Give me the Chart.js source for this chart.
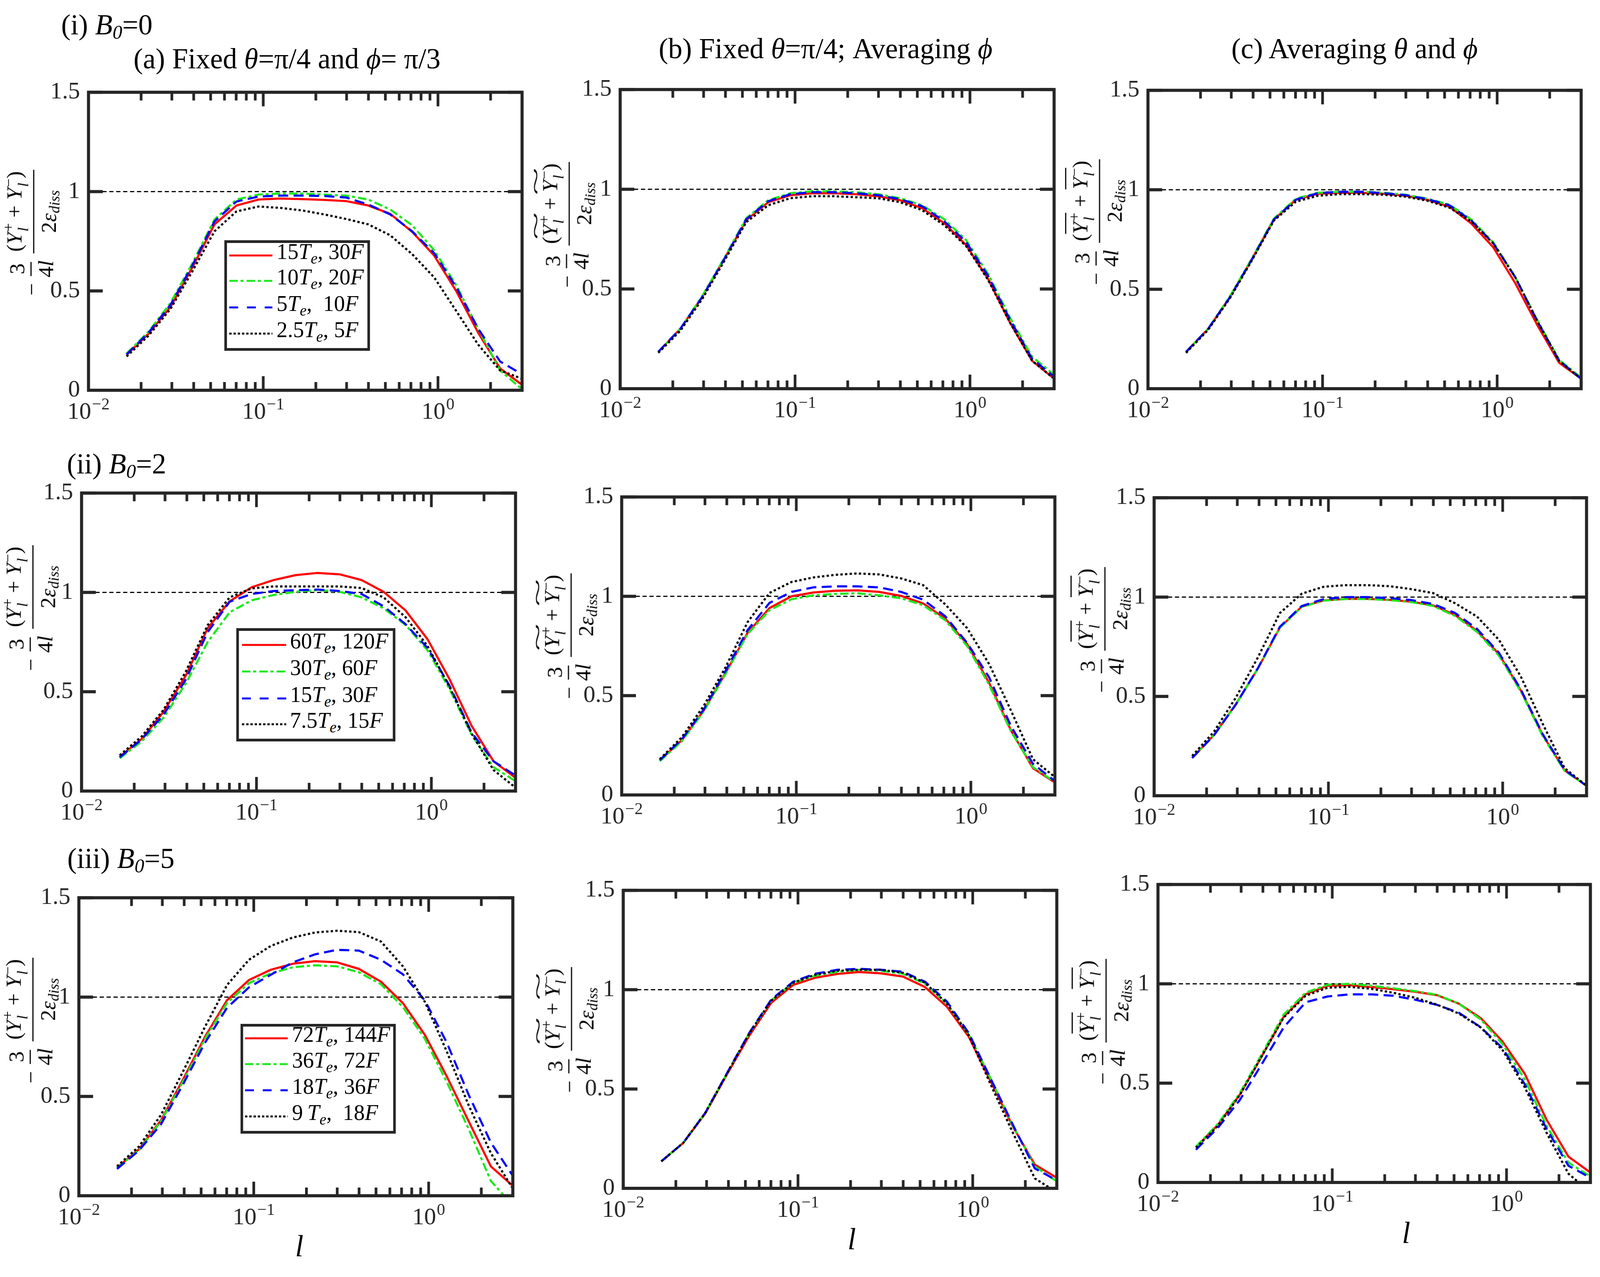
<!DOCTYPE html>
<html>
<head>
<meta charset="utf-8">
<script src="https://cdn.jsdelivr.net/npm/chart.js@4.4.0/dist/chart.umd.min.js"></script>
<style>
html,body{margin:0;padding:0;background:#fff;overflow:hidden;}
#fig{position:relative;width:4159px;height:3269px;overflow:hidden;background:#fff;font-family:"Liberation Serif","Times New Roman",serif;color:#000;transform-origin:0 0;}
.pan{position:absolute;}
.ttl{position:absolute;white-space:nowrap;font-size:74px;line-height:1;transform:translate(-50%,-50%);}
.rowt{position:absolute;white-space:nowrap;font-size:74px;line-height:1;transform:translateY(-50%);}
.rowt sub{font-size:0.68em;vertical-align:-0.22em;}
.ylab{position:absolute;white-space:nowrap;font-size:56px;line-height:1;transform:translate(-50%,-50%) rotate(-90deg);display:flex;align-items:center;}
.ylab .mi{margin-right:4px;}
.fr{display:inline-flex;flex-direction:column;align-items:center;margin:0 7px;}
.nu{padding:0 4px 7px;border-bottom:3px solid #000;}
.de{padding:9px 4px 0;}
.scr{display:inline-block;vertical-align:-0.45em;font-size:0.68em;line-height:1;margin-left:2px;text-align:left;}
.scr>span{display:block;}
.til,.ovl{position:relative;display:inline-block;}
.ovl{border-top:3px solid #000;padding-top:2px;}
.tmark{position:absolute;left:0;right:0;top:-0.55em;text-align:center;transform:scaleX(2.6);font-size:0.9em;}
.ds{font-size:0.68em;vertical-align:-0.25em;}
.leg{position:absolute;box-sizing:border-box;border:7px solid #262626;background:#fff;}
.legt{position:absolute;white-space:nowrap;font-size:57px;line-height:1;transform:translateY(-58%);}
.legt sub{font-size:0.7em;vertical-align:-0.3em;}
.xl{position:absolute;font-size:78px;line-height:1;font-style:italic;transform:translate(-50%,-50%);}
svg.smp{position:absolute;overflow:visible;}
</style>
</head>
<body>
<div id="fig"></div>
<script>
// ---------------- data ----------------
const lValues = [0.01652, 0.02207, 0.02948, 0.03937, 0.05260, 0.07026, 0.09385, 0.1254, 0.1674, 0.2237, 0.2988, 0.3991, 0.5331, 0.7121, 0.9512, 1.2706, 1.6972, 2.2671, 3.0283];

const xMajorTicks = [0.01, 0.1, 1];
const xMajorBase = ['10', '10', '10'];
const xMajorExp = ['\u22122', '\u22121', '0'];
const xMinorTicks = [0.02,0.03,0.04,0.05,0.06,0.07,0.08,0.09,0.2,0.3,0.4,0.5,0.6,0.7,0.8,0.9,2,3];
const yTickValues = [0, 0.5, 1, 1.5];
const refLineX = [0.01, 3.0283];
const refLineY = [1, 1];

// (i) B0 = 0
const iaRed   = [0.178,0.285,0.42,0.62,0.835,0.93,0.96,0.965,0.962,0.958,0.952,0.93,0.888,0.797,0.678,0.50,0.29,0.11,0.027];
const iaGreen = [0.185,0.295,0.44,0.64,0.86,0.96,0.985,0.99,0.99,0.985,0.98,0.96,0.91,0.83,0.705,0.53,0.31,0.10,0.005];
const iaBlue  = [0.18,0.29,0.43,0.63,0.85,0.95,0.975,0.98,0.98,0.978,0.97,0.935,0.885,0.80,0.69,0.52,0.31,0.145,0.08];
const iaBlack = [0.17,0.275,0.41,0.60,0.80,0.90,0.925,0.918,0.905,0.885,0.862,0.835,0.78,0.685,0.568,0.40,0.23,0.10,0.058];

const ibRed   = [0.185,0.30,0.46,0.65,0.845,0.935,0.97,0.98,0.98,0.975,0.965,0.945,0.905,0.83,0.72,0.55,0.33,0.14,0.05];
const ibGreen = [0.185,0.30,0.465,0.655,0.855,0.945,0.98,0.99,0.99,0.985,0.975,0.955,0.92,0.85,0.745,0.575,0.355,0.16,0.07];
const ibBlue  = [0.185,0.30,0.46,0.65,0.85,0.94,0.975,0.985,0.985,0.98,0.97,0.95,0.915,0.84,0.735,0.565,0.345,0.15,0.06];
const ibBlack = [0.18,0.29,0.45,0.64,0.835,0.92,0.955,0.965,0.965,0.96,0.955,0.935,0.895,0.82,0.715,0.545,0.33,0.14,0.05];

const icRed   = [0.185,0.30,0.46,0.65,0.85,0.95,0.98,0.985,0.985,0.98,0.97,0.95,0.915,0.83,0.71,0.53,0.32,0.13,0.05];
const icGreen = [0.185,0.30,0.465,0.655,0.855,0.955,0.985,0.99,0.99,0.985,0.975,0.955,0.925,0.85,0.735,0.56,0.345,0.145,0.055];
const icBlue  = [0.185,0.30,0.46,0.65,0.85,0.95,0.983,0.99,0.99,0.983,0.973,0.953,0.922,0.845,0.73,0.56,0.34,0.14,0.05];
const icBlack = [0.18,0.295,0.455,0.645,0.845,0.94,0.97,0.978,0.978,0.975,0.965,0.945,0.91,0.84,0.73,0.56,0.34,0.14,0.05];

// (ii) B0 = 2
const iiaRed   = [0.173,0.262,0.40,0.58,0.82,0.955,1.026,1.062,1.087,1.098,1.091,1.062,1.003,0.909,0.764,0.563,0.329,0.15,0.067];
const iiaGreen = [0.165,0.25,0.37,0.54,0.75,0.90,0.96,0.987,1.003,1.012,1.003,0.975,0.92,0.836,0.708,0.513,0.284,0.12,0.05];
const iiaBlue  = [0.17,0.26,0.385,0.56,0.80,0.953,0.992,1.007,1.011,1.014,1.007,0.992,0.93,0.84,0.72,0.53,0.295,0.15,0.078];
const iiaBlack = [0.18,0.275,0.41,0.60,0.835,0.975,1.02,1.03,1.03,1.03,1.03,1.022,0.975,0.875,0.73,0.524,0.29,0.106,0.017];

const iibRed   = [0.174,0.275,0.425,0.615,0.816,0.941,1.0,1.019,1.028,1.03,1.022,1.002,0.964,0.888,0.76,0.565,0.325,0.135,0.0625];
const iibGreen = [0.17,0.27,0.42,0.61,0.81,0.93,0.985,1.005,1.012,1.015,1.005,0.99,0.955,0.88,0.75,0.555,0.32,0.14,0.065];
const iibBlue  = [0.175,0.28,0.43,0.625,0.83,0.967,1.022,1.045,1.05,1.05,1.045,1.022,0.983,0.90,0.766,0.593,0.347,0.157,0.07];
const iibBlack = [0.18,0.29,0.448,0.643,0.87,1.017,1.072,1.095,1.108,1.115,1.11,1.09,1.056,0.96,0.84,0.66,0.425,0.18,0.09];

const iicRed   = [0.19,0.306,0.462,0.64,0.846,0.952,0.983,0.991,0.991,0.986,0.977,0.958,0.91,0.83,0.713,0.53,0.306,0.128,0.05];
const iicGreen = [0.19,0.305,0.46,0.64,0.845,0.95,0.982,0.99,0.99,0.985,0.975,0.955,0.905,0.825,0.705,0.525,0.30,0.125,0.05];
const iicBlue  = [0.19,0.305,0.46,0.642,0.85,0.955,0.99,1.0,1.0,0.995,0.985,0.965,0.92,0.84,0.72,0.535,0.31,0.13,0.05];
const iicBlack = [0.2,0.323,0.495,0.696,0.919,1.017,1.052,1.06,1.06,1.055,1.04,1.02,0.969,0.902,0.785,0.60,0.362,0.139,0.05];

// (iii) B0 = 5
const iiiaRed   = [0.142,0.234,0.38,0.585,0.80,0.984,1.086,1.138,1.168,1.181,1.175,1.142,1.078,0.97,0.81,0.60,0.373,0.148,0.05];
const iiiaGreen = [0.14,0.23,0.375,0.575,0.79,0.97,1.07,1.12,1.15,1.16,1.155,1.125,1.065,0.95,0.79,0.572,0.334,0.075,-0.05];
const iiiaBlue  = [0.135,0.228,0.36,0.56,0.77,0.946,1.049,1.113,1.175,1.215,1.238,1.234,1.188,1.115,0.983,0.77,0.506,0.268,0.10];
const iiiaBlack = [0.148,0.248,0.407,0.625,0.85,1.06,1.188,1.258,1.30,1.325,1.334,1.327,1.28,1.155,0.976,0.725,0.453,0.215,0.036];

const iiibRed   = [0.136,0.229,0.377,0.576,0.768,0.934,1.024,1.06,1.079,1.089,1.082,1.066,1.013,0.914,0.762,0.536,0.311,0.119,0.053];
const iiibGreen = [0.136,0.229,0.38,0.58,0.78,0.945,1.035,1.07,1.09,1.10,1.095,1.08,1.03,0.93,0.775,0.55,0.315,0.11,0.035];
const iiibBlue  = [0.136,0.229,0.38,0.582,0.782,0.95,1.04,1.08,1.10,1.105,1.10,1.09,1.04,0.94,0.78,0.55,0.32,0.10,0.04];
const iiibBlack = [0.136,0.229,0.38,0.58,0.78,0.945,1.035,1.075,1.095,1.10,1.10,1.085,1.035,0.93,0.77,0.52,0.28,0.05,-0.02];

const iiicRed   = [0.177,0.29,0.442,0.635,0.834,0.947,0.99,0.993,0.984,0.973,0.96,0.943,0.90,0.827,0.708,0.548,0.316,0.13,0.05];
const iiicGreen = [0.18,0.295,0.45,0.645,0.845,0.955,0.995,1.0,0.99,0.978,0.963,0.945,0.90,0.82,0.695,0.52,0.285,0.10,0.03];
const iiicBlue  = [0.165,0.275,0.415,0.595,0.78,0.907,0.936,0.947,0.947,0.94,0.92,0.894,0.854,0.781,0.675,0.495,0.27,0.084,0.024];
const iiicBlack = [0.175,0.285,0.44,0.635,0.83,0.94,0.98,0.985,0.975,0.955,0.93,0.895,0.85,0.78,0.665,0.48,0.25,0.044,-0.05];

// legend labels: [multiple of T_e, multiple of F]
const legendI   = [['15','30'],['10','20'],['5','\u00a010'],['2.5','5']];
const legendII  = [['60','120'],['30','60'],['15','30'],['7.5','15']];
const legendIII = [['72','144'],['36','72'],['18','36'],['9\u2009','\u00a018']];

const rowTitles = [['(i) ','0'],['(ii) ','2'],['(iii) ','5']];

// ---------------- styles & layout ----------------
const seriesStyle = [
  {color:'#ff0000', dash:[], legDash:''},
  {color:'#1ee81e', dash:[22,7,8,8], legDash:'22 7 8 8'},
  {color:'#0000ff', dash:[26,14], legDash:'23 23'},
  {color:'#000000', dash:[6,6], legDash:'6 5'}
];
const AX = '#262626';
const TICKFONT = '"Liberation Serif", "Times New Roman", serif';

const panels = [
  {box:[230,227,1357,999],  d:[iaRed,iaGreen,iaBlue,iaBlack], yk:'plain', yl:[82,592]},
  {box:[1612,220,2740,995], d:[ibRed,ibGreen,ibBlue,ibBlack], yk:'tilde', yl:[1474,572]},
  {box:[2984,222,4110,995], d:[icRed,icGreen,icBlue,icBlack], yk:'bar',   yl:[2850,565]},
  {box:[212,1253,1340,2025],  d:[iiaRed,iiaGreen,iiaBlue,iiaBlack], yk:'plain', yl:[80,1553]},
  {box:[1616,1263,2742,2035], d:[iibRed,iibGreen,iibBlue,iibBlack], yk:'tilde', yl:[1479,1625]},
  {box:[3000,1265,4124,2037], d:[iicRed,iicGreen,iicBlue,iicBlack], yk:'bar',   yl:[2864,1609]},
  {box:[205,2289,1333,3061],  d:[iiiaRed,iiiaGreen,iiiaBlue,iiiaBlack], yk:'plain', yl:[80,2609], xl:[778,3190]},
  {box:[1620,2270,2747,3042], d:[iiibRed,iiibGreen,iiibBlue,iiibBlack], yk:'tilde', yl:[1480,2633], xl:[2214,3172]},
  {box:[3010,2255,4134,3027], d:[iiicRed,iiicGreen,iiicBlue,iiicBlack], yk:'bar',   yl:[2867,2612], xl:[3655,3156]}
];

const legends = [
  {labels:legendI,   box:[583,615,962,898],   rows:[654,719,787,854],    sx:[596,708], tx:719},
  {labels:legendII,  box:[614,1608,1028,1898], rows:[1651,1719,1788,1854], sx:[629,744], tx:754},
  {labels:legendIII, box:[625,2621,1029,2902], rows:[2658,2724,2791,2858], sx:[637,748], tx:759}
];

const colTitles = [
  {html:'(a) Fixed <i>\u03b8</i>=\u03c0/4 and <i>\u03d5</i>= \u03c0/3', x:746, y:150},
  {html:'(b) Fixed <i>\u03b8</i>=\u03c0/4; Averaging <i>\u03d5</i>', x:2146, y:124},
  {html:'(c) Averaging <i>\u03b8</i> and <i>\u03d5</i>', x:3521, y:124}
];
const rowTitlePos = [[159,67],[174,1191],[175,2201]];

// ---------------- plugin: MATLAB-like box, inward ticks, log tick labels ----------------
const framePlugin = {
  id:'frame',
  afterDatasetsDraw(chart){
    const {ctx, chartArea:a, scales:{x, y}} = chart;
    ctx.save();
    ctx.strokeStyle = AX; ctx.lineCap = 'butt';
    const seg = (x1,y1,x2,y2)=>{ctx.beginPath();ctx.moveTo(x1,y1);ctx.lineTo(x2,y2);ctx.stroke();};
    ctx.lineWidth = 8;
    ctx.strokeRect(a.left, a.top, a.right - a.left, a.bottom - a.top);
    yTickValues.forEach(v=>{
      const py = y.getPixelForValue(v);
      seg(a.left, py, a.left + 37, py);
      seg(a.right, py, a.right - 37, py);
    });
    ctx.lineWidth = 7;
    xMajorTicks.forEach(v=>{
      const px = x.getPixelForValue(v);
      seg(px, a.bottom, px, a.bottom - 36);
      seg(px, a.top, px, a.top + 36);
    });
    xMinorTicks.forEach(v=>{
      const px = x.getPixelForValue(v);
      if (px > a.right - 4) return;
      seg(px, a.bottom, px, a.bottom - 21);
      seg(px, a.top, px, a.top + 21);
    });
    ctx.fillStyle = AX; ctx.textAlign = 'left'; ctx.textBaseline = 'alphabetic';
    xMajorTicks.forEach((v,i)=>{
      const px = x.getPixelForValue(v);
      ctx.font = '62px ' + TICKFONT;
      const wb = ctx.measureText(xMajorBase[i]).width;
      ctx.font = '43px ' + TICKFONT;
      const we = ctx.measureText(xMajorExp[i]).width;
      const x0 = px - (wb + we + 2) / 2;
      ctx.font = '62px ' + TICKFONT;
      ctx.fillText(xMajorBase[i], x0, a.bottom + 73);
      ctx.font = '43px ' + TICKFONT;
      ctx.fillText(xMajorExp[i], x0 + wb + 2, a.bottom + 49);
    });
    ctx.restore();
  }
};

// ---------------- build ----------------
const fig = document.getElementById('fig');
function fitFig(){
  const vw = window.innerWidth || 4159, vh = window.innerHeight || 3269;
  const sx = vw / 4159, sy = vh / 3269;
  fig.style.transform = (Math.abs(sx - 1) < 0.002 && Math.abs(sy - 1) < 0.002) ? 'none' : 'scale(' + sx + ',' + sy + ')';
}
fitFig();
window.addEventListener('resize', fitFig);

const padL = 200, padT = 50, padR = 40, padB = 130;

function toPoints(xs, ys){ return xs.map((x,i)=>({x:x, y:ys[i]})); }

function yLabelHTML(kind){
  const Y = s=>{
    const core = '<i>Y</i><span class="scr"><span>' + s + '</span><span><i>l</i></span></span>';
    if (kind === 'tilde') return '<span class="til">' + core + '<span class="tmark">~</span></span>';
    if (kind === 'bar') return '<span class="ovl">' + core + '</span>';
    return core;
  };
  return '<span class="mi">\u2212</span>' +
    '<span class="fr"><span class="nu">3</span><span class="de">4<i>l</i></span></span>' +
    '<span class="fr"><span class="nu">(' + Y('+') + ' + ' + Y('\u2212') + ')</span>' +
    '<span class="de">2<i>\u03b5</i><sub class="ds"><i>diss</i></sub></span></span>';
}

panels.forEach((p)=>{
  const [L,T,R,B] = p.box;
  const W = (R - L) + padL + padR, H = (B - T) + padT + padB;
  const wrap = document.createElement('div');
  wrap.className = 'pan';
  wrap.style.left = (L - padL) + 'px';
  wrap.style.top = (T - padT) + 'px';
  wrap.style.width = W + 'px';
  wrap.style.height = H + 'px';
  const cv = document.createElement('canvas');
  cv.width = W; cv.height = H;
  cv.style.width = W + 'px'; cv.style.height = H + 'px';
  wrap.appendChild(cv);
  fig.appendChild(wrap);

  const datasets = [{
    data: toPoints(refLineX, refLineY), borderColor:'#000', borderWidth:3, borderDash:[11,7], order:10, fill:false
  }];
  p.d.forEach((arr, k)=>{
    datasets.push({
      data: toPoints(lValues, arr),
      borderColor: seriesStyle[k].color,
      borderWidth: 5.5,
      borderDash: seriesStyle[k].dash,
      order: 4 - k,
      fill:false
    });
  });

  new Chart(cv.getContext('2d'), {
    type:'line',
    data:{datasets},
    options:{
      responsive:false, animation:false, devicePixelRatio:1,
      layout:{padding:{top:padT, right:padR, left:0, bottom:0}, autoPadding:false},
      plugins:{legend:{display:false}, tooltip:{enabled:false}, title:{display:false}},
      elements:{point:{radius:0, hoverRadius:0}, line:{tension:0, borderCapStyle:'butt', borderJoinStyle:'round'}},
      events:[],
      scales:{
        x:{
          type:'logarithmic', min:0.01, max:3.0283,
          grid:{display:false, drawTicks:false}, border:{display:false},
          ticks:{display:false},
          afterBuildTicks(s){ s.ticks = xMajorTicks.map(v=>({value:v})); },
          afterFit(s){ s.height = padB; }
        },
        y:{
          type:'linear', min:0, max:1.5,
          grid:{display:false, drawTicks:false}, border:{display:false},
          ticks:{stepSize:0.5, padding:22, color:AX, font:{family:TICKFONT, size:62}, callback:(v)=>String(v)},
          afterBuildTicks(s){ s.ticks = yTickValues.map(v=>({value:v})); },
          afterFit(s){ s.width = padL; }
        }
      }
    },
    plugins:[framePlugin]
  });

  const yl = document.createElement('div');
  yl.className = 'ylab';
  yl.style.left = p.yl[0] + 'px';
  yl.style.top = p.yl[1] + 'px';
  yl.innerHTML = yLabelHTML(p.yk);
  fig.appendChild(yl);

  if (p.xl){
    const xl = document.createElement('div');
    xl.className = 'xl';
    xl.style.left = p.xl[0] + 'px';
    xl.style.top = p.xl[1] + 'px';
    xl.textContent = 'l';
    fig.appendChild(xl);
  }
});

colTitles.forEach(t=>{
  const d = document.createElement('div');
  d.className = 'ttl';
  d.style.left = t.x + 'px'; d.style.top = t.y + 'px';
  d.innerHTML = t.html;
  fig.appendChild(d);
});
rowTitles.forEach((t,i)=>{
  const d = document.createElement('div');
  d.className = 'rowt';
  d.style.left = rowTitlePos[i][0] + 'px'; d.style.top = rowTitlePos[i][1] + 'px';
  d.innerHTML = t[0] + '<i>B</i><sub><i>0</i></sub>=' + t[1];
  fig.appendChild(d);
});

legends.forEach(lg=>{
  const [L,T,R,B] = lg.box;
  const bx = document.createElement('div');
  bx.className = 'leg';
  bx.style.left = L + 'px'; bx.style.top = T + 'px';
  bx.style.width = (R - L) + 'px'; bx.style.height = (B - T) + 'px';
  fig.appendChild(bx);
  lg.labels.forEach((lab, k)=>{
    const yy = lg.rows[k];
    const svgNS = 'http://www.w3.org/2000/svg';
    const sv = document.createElementNS(svgNS, 'svg');
    sv.setAttribute('class','smp');
    const w = lg.sx[1] - lg.sx[0];
    sv.setAttribute('width', w); sv.setAttribute('height', 20);
    sv.style.left = lg.sx[0] + 'px'; sv.style.top = (yy - 10) + 'px';
    const ln = document.createElementNS(svgNS, 'line');
    ln.setAttribute('x1', 0); ln.setAttribute('y1', 10);
    ln.setAttribute('x2', w); ln.setAttribute('y2', 10);
    ln.setAttribute('stroke', seriesStyle[k].color);
    ln.setAttribute('stroke-width', 5);
    if (seriesStyle[k].legDash) ln.setAttribute('stroke-dasharray', seriesStyle[k].legDash);
    sv.appendChild(ln);
    fig.appendChild(sv);
    const tx = document.createElement('div');
    tx.className = 'legt';
    tx.style.left = lg.tx + 'px'; tx.style.top = yy + 'px';
    tx.innerHTML = lab[0] + '<i>T</i><sub><i>e</i></sub>, ' + lab[1] + '<i>F</i>';
    fig.appendChild(tx);
  });
});
</script>
</body>
</html>
